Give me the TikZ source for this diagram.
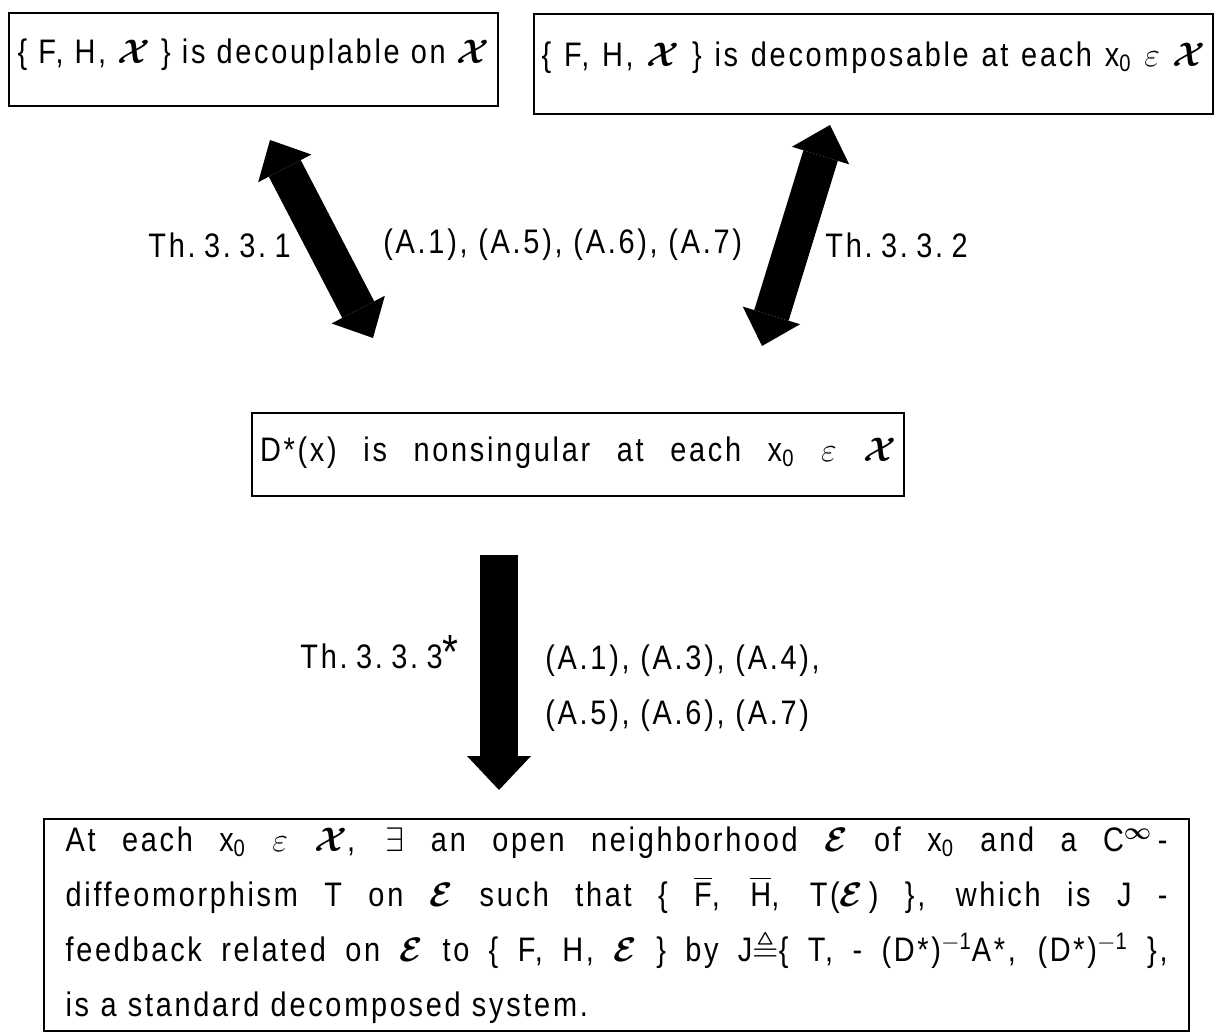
\RequirePackage{fix-cm}
\documentclass[tikz,border=0pt]{standalone}
\usepackage{amsmath,amssymb}
\usepackage{fontspec}
\setmainfont{Liberation Sans}[LetterSpace=8,FakeStretch=0.85]
\usetikzlibrary{arrows.meta}
\newcommand{\Xs}{\ensuremath{\boldsymbol{\mathcal{X}}}}
\newcommand{\Es}{\ensuremath{\boldsymbol{\mathcal{E}}}}
\newcommand{\xo}{x\textsubscript{0}}
\newcommand{\epsi}{\ensuremath{\varepsilon}}
\newcommand{\inv}{\textsuperscript{$-$1}}
\newcommand{\fw}[2]{\makebox[#1][s]{\spaceskip=0.3em plus 20em minus 0.1em\relax #2}}
\newcommand{\ts}{\hspace{0.25em}}
\begin{document}
\begin{tikzpicture}[x=0.5pt,y=-0.5pt,
  box/.style={draw,line width=1.1pt,inner sep=0pt},
  big/.style={font=\fontsize{17}{20}\selectfont},
  lbl/.style={font=\fontsize{17}{27.5}\selectfont,inner sep=0pt,anchor=west,align=left},
  dbl/.style={line width=18pt,{Triangle[length=16pt,width=30pt,line width=0pt]}-{Triangle[length=16pt,width=30pt,line width=0pt]}},
  sgl/.style={line width=19pt,-{Triangle[length=17pt,width=32pt,line width=0pt]}}
]
\useasboundingbox (0,0) rectangle (1215,1036);

\node[box,big,anchor=north west,minimum width=244.5pt,text height=25pt,text depth=21.5pt] (b1) at (8,12)
  {\fw{236pt}{\{ F, H, \Xs\ \} is decouplable on \Xs}};
\node[box,big,anchor=north west,minimum width=339.5pt,text height=26pt,text depth=24pt] (b2) at (533,13)
  {\fw{332pt}{\{ F, H, \Xs\ \} is decomposable at each \xo\ \epsi\ \Xs}};
\node[box,big,anchor=north west,minimum width=326pt,text height=24pt,text depth=17.5pt] (b3) at (251,412)
  {\fw{318pt}{D*(x) is nonsingular at each \xo\ \epsi\ \Xs}};
\node[box,anchor=north west,minimum width=572.5pt,minimum height=106pt,text width=551pt,align=left,
  font=\fontsize{17}{27.5}\selectfont,inner xsep=10.75pt] (b4) at (43,818)
  {\fw{551pt}{At each \xo\ \epsi\ \Xs, $\exists$ an open neighborhood \Es\ of \xo\ and a C$^{\boldsymbol{\infty}}$\,-}\\
   \fw{551pt}{diffeomorphism T on \Es\ such that \{ $\overline{\text{F}}$, $\overline{\text{H}}$, T(\Es\,) \}, which is J -}\\
   \fw{551pt}{feedback related on \Es\ to \{ F, H, \Es\ \} by J$\triangleq$\{ T, - (D*)\inv A*, (D*)\inv\ \},}\\
   is a standard decomposed system.};

\coordinate (l1) at (270,140);
\coordinate (l2) at (373,338);
\coordinate (r1) at (830,125);
\coordinate (r2) at (762,346);
\coordinate (d1) at (499,555);
\coordinate (d2) at (499,790);
\draw[dbl] (l1) -- (l2);
\draw[dbl] (r1) -- (r2);
\draw[sgl] (d1) -- (d2);

\node[lbl] (t1) at (148,245) {Th.\ts 3.\ts 3.\ts 1};
\node[lbl] (a1) at (383,245) {(A.1), (A.5), (A.6), (A.7)};
\node[lbl] (t2) at (825,245) {Th.\ts 3.\ts 3.\ts 2};
\node[lbl] (t3) at (300,652) {Th.\ts 3.\ts 3.\ts 3{\fontsize{24}{24}\selectfont *}};
\node[lbl] (a2) at (545,688) {(A.1), (A.3), (A.4),\\(A.5), (A.6), (A.7)};
\end{tikzpicture}
\end{document}
